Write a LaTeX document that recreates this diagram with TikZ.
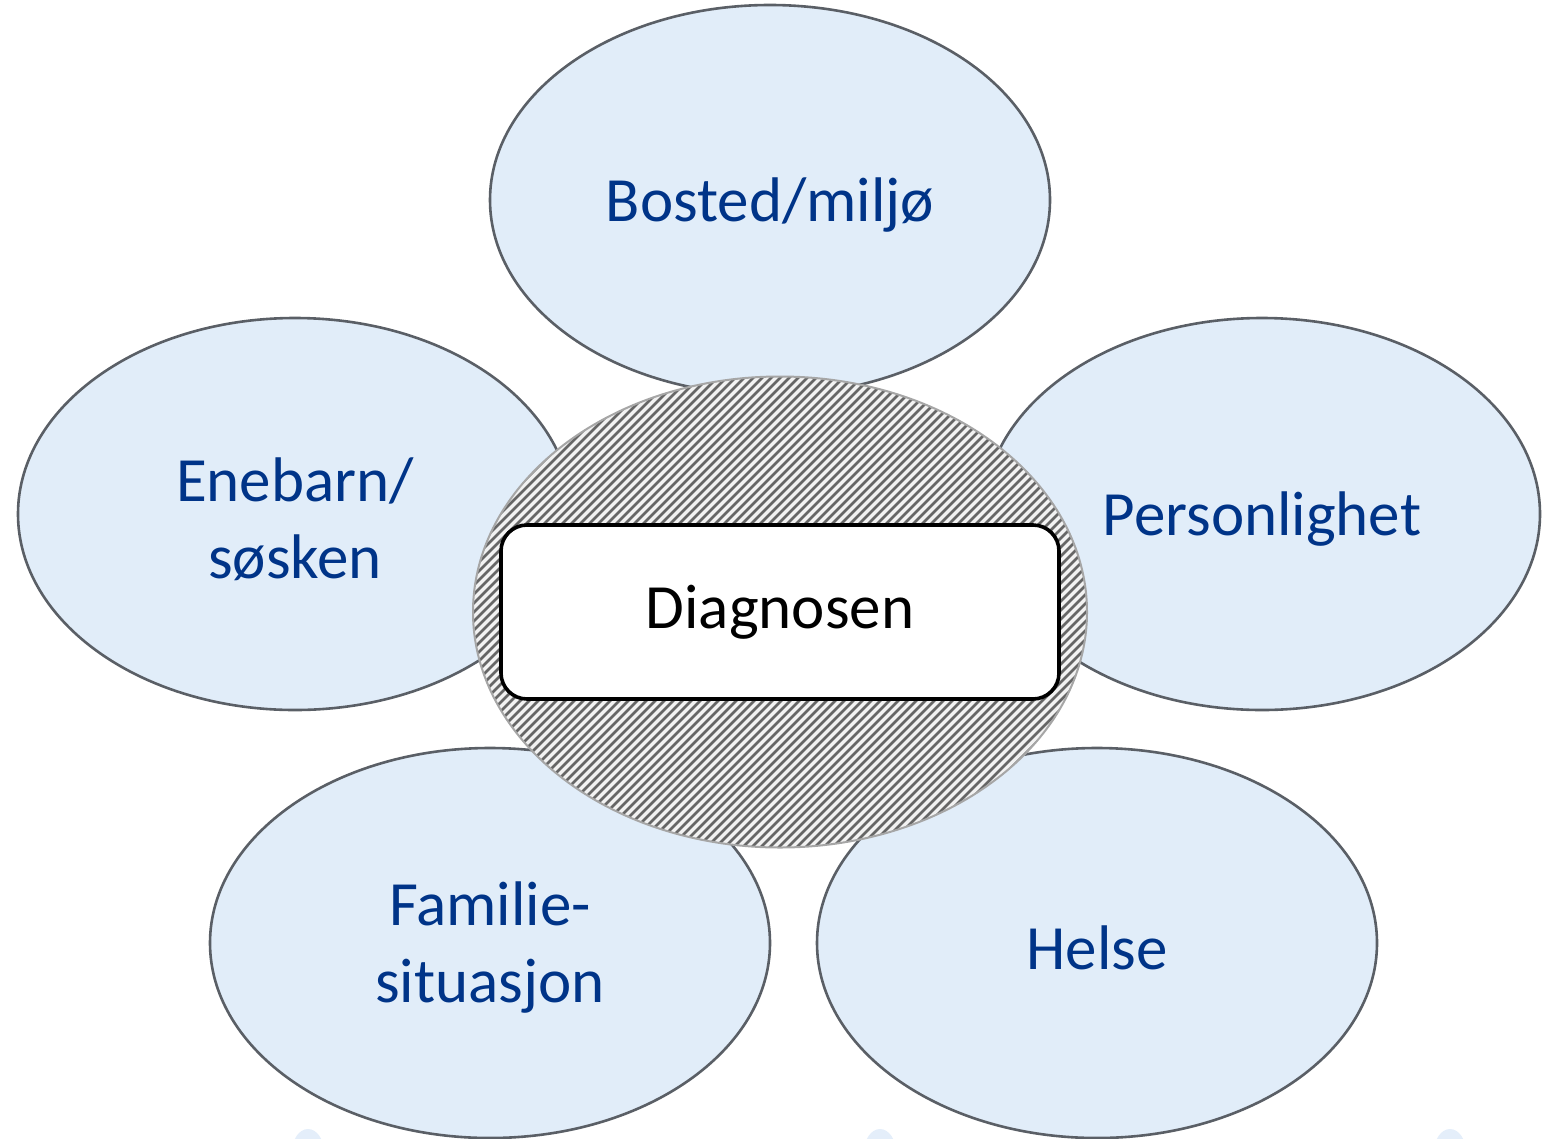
\documentclass[tikz,border=0pt]{standalone}
\usepackage{fontspec}
\setmainfont{Carlito}
\usepackage{tikz}
\usetikzlibrary{shapes.geometric}
\definecolor{petal}{HTML}{E1EDF9}
\definecolor{petalline}{HTML}{5A5F66}
\definecolor{petaltext}{HTML}{003488}
\definecolor{hatchbg}{HTML}{F2F2F2}
\definecolor{hatchline}{HTML}{666666}
\definecolor{ghost}{HTML}{E4EEFA}

\begin{document}
\begin{tikzpicture}[
    x=1pt,y=-1pt,
    petal/.style={%
      draw=petalline,
      line width=2.6pt,
      fill=petal,
      ellipse,
      inner sep=0pt,
      minimum width=560pt,
      minimum height=390pt,
    },
    words/.style={%
      text=petaltext,
      align=center,
      yshift=-5pt,
      font=\fontsize{63}{77}\selectfont,
    },
    label box/.style={%
      draw=black,
      line width=3.6pt,
      fill=white,
      rectangle,
      rounded corners=26pt,
      minimum width=558pt,
      minimum height=174pt,
      font=\fontsize{63}{77}\selectfont,
    },
  ]

    \useasboundingbox (0,0) rectangle (1555,1138);

    % faint shapes at the lower edge
    \begin{scope}
      \clip (0,0) rectangle (1555,1138);
      \foreach \gx in {308,880,1450}
        \fill [ghost] (\gx,1152) ellipse [x radius=16, y radius=23];
    \end{scope}

    \coordinate (C) at (780,612);

    \path (C) ++(-10,-412) node [petal] (top) {};
    \path (C) ++(-485,-98) node [petal, minimum width=554pt, minimum height=392pt] (left) {};
    \path (C) ++(482,-98) node [petal, minimum width=556pt, minimum height=392pt] (right) {};
    \path (C) ++(-290,331) node [petal] (botleft) {};
    \path (C) ++(317,331) node [petal] (botright) {};

    \node [words] (top text) at (top) {Bosted/miljø};
    \node [words] (left text) at (left) {Enebarn/\\søsken};
    \node [words] (right text) at (right) {Personlighet};
    \node [words] (botleft text) at (botleft) {Familie-\\situasjon};
    \node [words] (botright text) at (botright) {Helse};

    % hatched disc behind the box
    \node [ellipse, inner sep=0pt, minimum width=614pt, minimum height=471pt] (diag) at (C) {};
    \begin{scope}
      \clip (C) ellipse [x radius=307, y radius=235.5];
      \fill [hatchbg] (C) ellipse [x radius=307, y radius=235.5];
      \foreach \k in {-64,...,64}
        \draw [hatchline, line width=2.7pt] ([xshift=\k*9pt-600pt, yshift=-600pt]C) -- ++(1200,-1200);
    \end{scope}
    \draw [gray!70, line width=2pt] (C) ellipse [x radius=307, y radius=235.5];

    \node [label box] (box) at (diag) {Diagnosen};
\end{tikzpicture}
\end{document}
